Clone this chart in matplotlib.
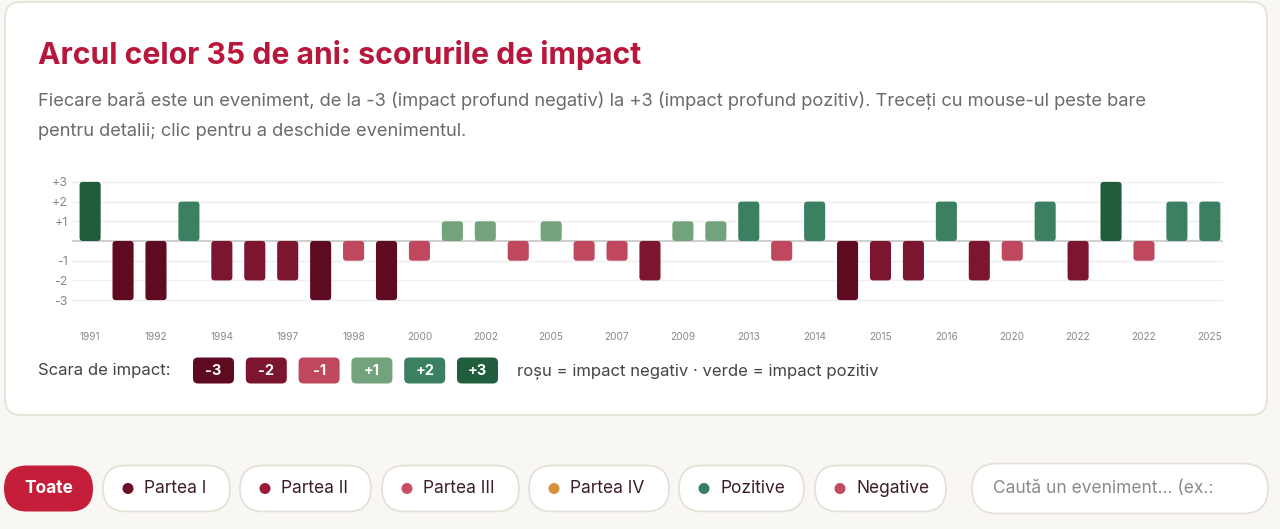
import matplotlib
matplotlib.use("Agg")
import matplotlib.pyplot as plt
from matplotlib.patches import FancyBboxPatch, Circle

plt.rcParams["font.family"] = ["Inter", "DejaVu Sans"]

# ---- date: scorul de impact pentru fiecare eveniment (35 de bare) ----
SCORURI = [3, -3, -3, 2, -2, -2, -2, -3, -1, -3, -1, 1, 1, -1, 1, -1, -1, -2,
           1, 1, 2, -1, 2, -3, -2, -2, 2, -2, -1, 2, -2, 3, -1, 2, 2]
# etichete afisate (din doua in doua bare)
ANI_ETICHETE = ["1991", "1992", "1994", "1997", "1998", "2000", "2002", "2005",
                "2007", "2009", "2013", "2014", "2015", "2016", "2020", "2022",
                "2022", "2025"]
Y_TICKS = [3, 2, 1, -1, -2, -3]
Y_LABELS = ["+3", "+2", "+1", "-1", "-2", "-3"]

SCARA = [-3, -2, -1, 1, 2, 3]
CULORI = {-3: "#5e0b22", -2: "#7b1530", -1: "#c0485e",
          1: "#72a37c", 2: "#3b8161", 3: "#1f5d3d"}

FILTRE = ["Partea I", "Partea II", "Partea III", "Partea IV", "Pozitive", "Negative"]
FILTRE_CULORI = ["#6b0f24", "#9b1b36", "#c94e64", "#d4903a", "#3a8060", "#c24b5f"]

W, H = 1280, 529
fig = plt.figure(figsize=(W / 100, H / 100), dpi=100)
fig.patch.set_facecolor("#f9f7f3")

# ---- fundal in coordonate de pixeli ----
bg = fig.add_axes([0, 0, 1, 1])
bg.set_xlim(0, W)
bg.set_ylim(H, 0)
bg.axis("off")

card = FancyBboxPatch((5, 2), 1262, 413, boxstyle="round,pad=0,rounding_size=16",
                      facecolor="white", edgecolor="#e4dfd7", lw=1.2)
bg.add_patch(card)

bg.text(38, 55, "Arcul celor 35 de ani: scorurile de impact", fontsize=21.7,
        fontweight="bold", color="#b8173b", va="center")
bg.text(38, 101, "Fiecare bară este un eveniment, de la -3 (impact profund negativ) "
        "la +3 (impact profund pozitiv). Treceți cu mouse-ul peste bare",
        fontsize=13.2, color="#6b6b6b", va="center")
bg.text(38, 131, "pentru detalii; clic pentru a deschide evenimentul.",
        fontsize=13.2, color="#6b6b6b", va="center")

# ---- legenda scarii ----
bg.text(38, 371, "Scara de impact:", fontsize=12, color="#444444", va="center")
for i, s in enumerate(SCARA):
    x0 = 193 + i * 52.8
    bg.add_patch(FancyBboxPatch((x0, 357.5), 41, 26, boxstyle="round,pad=0,rounding_size=5",
                                facecolor=CULORI[s], edgecolor="none"))
    bg.text(x0 + 20.5, 371, f"{s:+d}", fontsize=10.5, fontweight="bold",
            color="white", ha="center", va="center")
bg.text(517, 371, "roșu = impact negativ · verde = impact pozitiv",
        fontsize=12, color="#444444", va="center")

# ---- butoane de filtrare ----
yc, ph = 488.5, 46
bg.add_patch(FancyBboxPatch((4, yc - ph / 2), 89, ph, boxstyle="round,pad=0,rounding_size=23",
                            facecolor="#c41e3a", edgecolor="none"))
bg.text(48.5, yc, "Toate", fontsize=12.5, fontweight="bold", color="white",
        ha="center", va="center")
poz = [(103, 230), (240, 371), (382, 519), (529, 669), (679, 804), (815, 946)]
for (a, b), nume, c in zip(poz, FILTRE, FILTRE_CULORI):
    bg.add_patch(FancyBboxPatch((a, yc - ph / 2), b - a, ph,
                                boxstyle="round,pad=0,rounding_size=23",
                                facecolor="white", edgecolor="#e4dfd7", lw=1.2))
    bg.add_patch(Circle((a + 25, yc), 5.5, facecolor=c, edgecolor="none"))
    bg.text(a + 41, yc, nume, fontsize=12.5, color="#3d1e26", va="center")
bg.add_patch(FancyBboxPatch((972, yc - 25), 296, 50, boxstyle="round,pad=0,rounding_size=25",
                            facecolor="white", edgecolor="#e4dfd7", lw=1.2))
bg.text(993, yc, "Caută un eveniment... (ex.:", fontsize=12.5, color="#8a8a8a", va="center")

# ---- graficul cu bare ----
left, right, top, bottom = 72, 1223, 172, 310
ax = fig.add_axes([left / W, 1 - bottom / H, (right - left) / W, (bottom - top) / H])
ax.set_facecolor("none")
ax.set_xlim(-0.55, 34.4)
ax.set_ylim(-3.5, 3.5)
for s in ax.spines.values():
    s.set_visible(False)

for v in Y_TICKS:
    ax.axhline(v, color="#efefef", lw=1, zorder=0)
ax.axhline(0, color="#cfcfcf", lw=1.5, zorder=1)

x = list(range(len(SCORURI)))
bars = ax.bar(x, SCORURI, width=0.64, color=[CULORI[s] for s in SCORURI])
px_x = (right - left) / (34.4 + 0.55)
px_y = (bottom - top) / 7.0
for b in bars:
    x0, y0 = b.get_x(), b.get_y()
    w, h = b.get_width(), b.get_height()
    if h < 0:
        y0, h = y0 + h, -h
    rp = FancyBboxPatch((x0, y0), w, h, boxstyle="round,pad=0,rounding_size=0.1",
                        mutation_aspect=px_x / px_y, facecolor=b.get_facecolor(),
                        edgecolor="none", zorder=2)
    ax.add_patch(rp)
    b.remove()

ax.set_yticks(Y_TICKS)
ax.set_yticklabels(Y_LABELS, fontsize=9, color="#888888")
ax.set_xticks(x[::2])
ax.set_xticklabels(ANI_ETICHETE, fontsize=7.3, color="#8a8a8a")
ax.tick_params(axis="y", length=0, pad=3)
ax.tick_params(axis="x", length=0, pad=16)

fig.savefig("out.png", dpi=100, facecolor=fig.get_facecolor())
